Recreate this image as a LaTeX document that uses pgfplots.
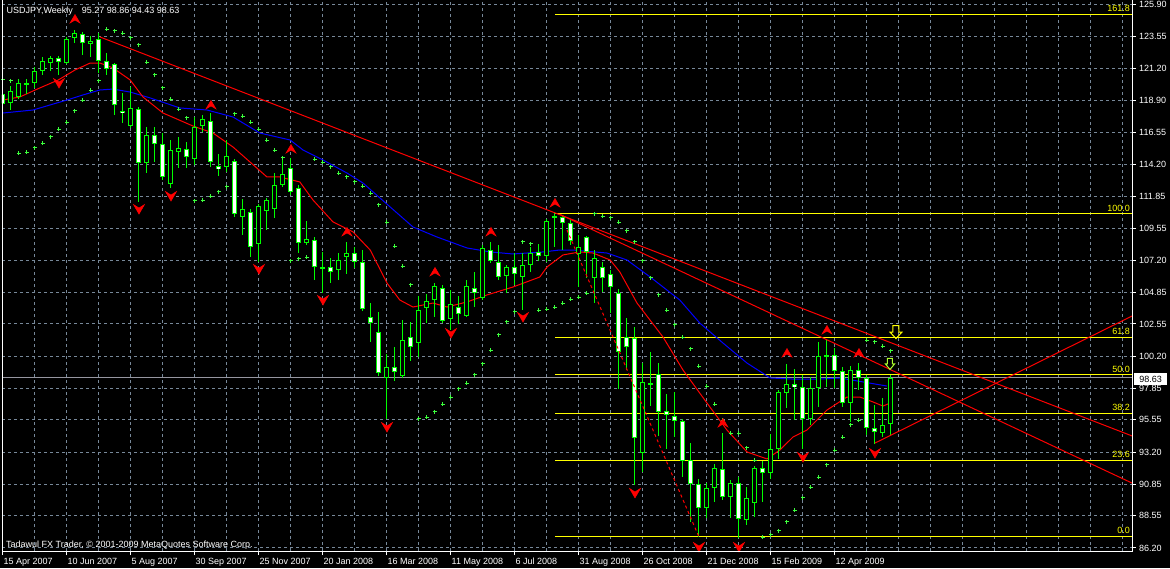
\documentclass[border=0pt]{standalone}
\usepackage{fontspec}
\setmainfont{Liberation Sans}
\usepackage{pgfplots}
\usepackage{pgfplotstable}
\pgfplotsset{compat=1.18}
\definecolor{gridc}{RGB}{119,136,153}
\definecolor{candle}{RGB}{0,255,0}
\definecolor{sarc}{RGB}{60,255,60}
\definecolor{fibc}{RGB}{255,255,0}
\definecolor{pricec}{RGB}{150,150,160}
\definecolor{arrA}{RGB}{255,255,0}
\definecolor{arrB}{RGB}{173,255,47}
\definecolor{maB}{RGB}{0,0,255}
\newcommand\mtfont{\fontsize{9pt}{10pt}\selectfont}

\pgfdeclareplotmark{fup}{%
  \pgfpathmoveto{\pgfqpoint{0pt}{4.5pt}}%
  \pgfpathlineto{\pgfqpoint{5pt}{-4pt}}%
  \pgfpathlineto{\pgfqpoint{0pt}{-1pt}}%
  \pgfpathlineto{\pgfqpoint{-5pt}{-4pt}}%
  \pgfpathclose\pgfusepathqfillstroke}
\pgfdeclareplotmark{fdn}{%
  \pgfpathmoveto{\pgfqpoint{0pt}{-5pt}}%
  \pgfpathlineto{\pgfqpoint{5.5pt}{4.5pt}}%
  \pgfpathlineto{\pgfqpoint{0pt}{1pt}}%
  \pgfpathlineto{\pgfqpoint{-5.5pt}{4.5pt}}%
  \pgfpathclose\pgfusepathqfillstroke}
\pgfdeclareplotmark{harrowA}{%
  \pgfpathmoveto{\pgfqpoint{-3pt}{6.5pt}}%
  \pgfpathlineto{\pgfqpoint{3pt}{6.5pt}}%
  \pgfpathlineto{\pgfqpoint{3pt}{0pt}}%
  \pgfpathlineto{\pgfqpoint{6pt}{0pt}}%
  \pgfpathlineto{\pgfqpoint{0pt}{-6.5pt}}%
  \pgfpathlineto{\pgfqpoint{-6pt}{0pt}}%
  \pgfpathlineto{\pgfqpoint{-3pt}{0pt}}%
  \pgfpathclose\pgfusepathqstroke}
\pgfdeclareplotmark{harrowB}{%
  \pgfpathmoveto{\pgfqpoint{-2.5pt}{5.5pt}}%
  \pgfpathlineto{\pgfqpoint{2.5pt}{5.5pt}}%
  \pgfpathlineto{\pgfqpoint{2.5pt}{0pt}}%
  \pgfpathlineto{\pgfqpoint{4.5pt}{0pt}}%
  \pgfpathlineto{\pgfqpoint{0pt}{-5.5pt}}%
  \pgfpathlineto{\pgfqpoint{-4.5pt}{0pt}}%
  \pgfpathlineto{\pgfqpoint{-2.5pt}{0pt}}%
  \pgfpathclose\pgfusepathqstroke}

\pgfplotstableread{
i O H L C
0 119.34 119.78 117.59 118.61
1 118.68 119.92 118.17 119.56
2 119.12 120.43 118.97 120.14
3 120.05 120.43 119.34 120.09
4 120.14 121.31 119.78 121.02
5 121.02 122.04 120.73 121.75
6 121.60 122.11 121.02 121.97
7 121.97 122.11 120.73 121.67
8 121.60 123.50 121.55 123.35
9 123.43 124.01 123.06 123.79
10 123.72 123.86 122.18 123.06
11 122.99 123.57 122.04 123.21
12 123.35 123.79 120.87 121.75
13 121.75 122.33 120.73 121.16
14 121.53 121.60 117.81 118.54
15 118.10 119.41 117.22 117.95
16 117.00 119.85 116.86 118.32
17 118.24 118.39 111.45 114.30
18 114.30 116.93 113.57 116.35
19 116.35 116.93 114.37 115.69
20 115.69 116.49 113.06 113.28
21 112.77 115.98 112.48 115.25
22 115.10 116.20 113.94 115.40
23 115.32 115.83 113.94 114.74
24 114.59 117.66 114.16 116.93
25 117.00 117.81 116.56 117.51
26 117.37 117.95 114.01 114.37
27 114.08 114.96 113.35 113.86
28 114.01 115.98 113.64 114.81
29 114.45 114.59 110.36 110.58
30 110.36 111.67 109.05 110.94
31 110.72 110.94 107.44 108.17
32 108.39 111.31 107.08 111.16
33 110.80 111.75 109.41 111.60
34 110.94 113.57 110.29 112.70
35 112.70 114.52 112.55 113.50
36 113.94 114.67 111.97 112.18
37 112.48 112.70 107.73 108.46
38 108.46 110.07 108.32 108.75
39 108.68 108.90 105.76 106.71
40 106.64 107.81 104.81 106.60
41 106.71 107.37 105.54 106.35
42 106.49 107.73 105.76 107.22
43 107.44 108.54 106.20 107.73
44 107.73 108.17 106.64 107.08
45 107.08 107.95 103.50 103.64
46 103.06 104.08 101.24 102.62
47 101.97 103.43 98.75 98.97
48 98.61 100.36 95.62 99.41
49 99.41 100.87 98.39 99.05
50 98.75 102.84 98.61 101.38
51 101.60 102.70 99.85 100.87
52 101.16 104.59 100.14 103.57
53 103.72 104.74 102.62 104.23
54 104.30 105.54 103.06 105.32
55 105.18 105.40 102.62 102.77
56 102.91 105.03 102.11 104.01
57 103.79 104.59 102.55 103.28
58 103.13 105.76 103.06 105.32
59 105.18 106.35 103.79 104.81
60 104.45 108.32 104.30 108.10
61 107.95 108.54 107.00 107.15
62 107.08 108.32 105.76 105.98
63 106.05 106.86 104.81 106.71
64 106.71 107.73 105.40 106.20
65 105.98 107.73 103.57 106.86
66 106.86 108.17 106.34 107.73
67 107.80 108.39 107.15 107.51
68 107.51 110.21 107.08 110.07
69 110.29 110.65 108.17 110.43
70 110.36 110.50 107.95 109.92
71 109.92 110.14 108.32 108.61
72 107.66 109.05 105.25 108.17
73 108.90 108.97 105.91 107.80
74 105.91 107.95 104.08 107.37
75 106.71 107.08 104.89 105.91
76 106.20 106.49 103.35 105.25
77 104.81 105.10 97.81 100.51
78 101.60 102.99 99.19 100.87
79 101.53 102.33 90.80 94.23
80 93.13 99.70 91.75 98.32
81 98.20 100.51 96.56 98.15
82 98.90 99.70 94.38 96.13
83 96.20 97.44 93.43 95.91
84 95.83 97.59 94.30 95.47
85 95.47 95.62 91.38 92.55
86 92.62 93.86 88.10 90.87
87 90.87 91.24 87.00 89.12
88 89.12 90.94 88.39 90.58
89 90.58 92.33 89.56 92.04
90 91.97 94.59 89.70 89.92
91 89.92 91.16 88.39 90.94
92 90.94 91.38 86.93 88.32
93 88.24 90.65 87.88 89.85
94 89.48 92.18 88.46 92.04
95 92.04 92.55 89.56 91.67
96 91.67 94.52 91.24 93.43
97 93.43 97.73 92.70 97.59
98 97.51 99.63 96.42 98.17
99 98.17 99.27 95.54 97.95
100 97.95 98.83 93.43 95.62
101 95.62 98.68 95.18 97.88
102 97.88 101.24 96.49 100.21
103 100.21 101.38 97.95 100.29
104 100.29 100.80 97.88 99.12
105 99.12 99.41 96.49 96.78
106 96.78 99.48 95.40 99.19
107 99.19 99.70 97.73 98.61
108 98.61 98.83 94.45 94.96
109 94.96 96.64 93.79 94.67
110 94.60 97.15 94.30 95.18
111 95.27 98.86 94.43 98.63
}\candles

\pgfplotstableread{
i p
0 120.43
1 120.29
2 115.03
3 115.10
4 115.40
5 115.76
6 116.20
7 116.78
8 117.29
9 118.10
10 118.90
11 119.63
12 120.29
13 124.08
14 123.94
15 123.79
16 123.43
17 122.92
18 121.67
19 120.73
20 119.78
21 118.97
22 118.24
23 117.59
24 111.53
25 111.60
26 111.89
27 112.19
28 112.55
29 117.88
30 117.73
31 117.29
32 116.78
33 115.98
34 115.25
35 114.67
36 107.15
37 107.30
38 107.44
39 114.59
40 114.37
41 114.01
42 113.57
43 113.28
44 112.92
45 112.62
46 112.11
47 111.24
48 109.99
49 108.24
50 106.78
51 105.40
52 95.62
53 95.76
54 96.13
55 96.71
56 97.22
57 97.81
58 98.24
59 98.83
60 99.63
61 100.65
62 101.75
63 102.70
64 103.43
65 108.54
66 108.39
67 103.57
68 103.64
69 103.79
70 104.08
71 104.37
72 104.52
73 104.81
74 110.58
75 110.43
76 110.29
77 109.99
78 109.34
79 108.54
80 107.15
81 105.91
82 104.67
83 103.57
84 102.48
85 101.60
86 100.73
87 99.48
88 98.02
89 96.71
90 95.54
91 94.59
92 94.59
93 93.50
94 92.62
95 87.00
96 87.15
97 87.44
98 88.10
99 88.97
100 89.85
101 90.65
102 91.38
103 92.26
104 93.35
105 94.30
106 95.18
107 95.54
108 101.38
109 101.24
110 100.94
111 100.58
}\sar

\pgfplotstableread{
i p
0 118.90
2.1 119.12
4.6 119.78
6.9 120.36
9 121.09
10.9 121.60
12.1 121.60
13.75 121.24
15.9 120.36
17.5 119.12
20 117.95
23.75 117.00
26.25 116.49
28.75 115.47
33 113.28
34.6 113.28
37.1 112.92
38.75 111.60
41.25 110.00
43.75 109.27
45.9 107.95
48 105.54
49.6 104.30
51.25 103.79
53.75 104.08
55.5 103.79
58 104.16
60.5 104.67
63.75 105.25
67.1 105.98
68 106.71
70 107.59
72.1 107.81
73.75 107.73
75.9 107.22
77.1 106.35
79.25 104.08
82.5 101.60
85 99.19
88 96.78
90.5 94.81
93 93.21
95.5 92.70
97.1 93.35
98.75 94.30
100.5 94.81
103 96.27
105.5 97.22
107.1 97.22
108.75 96.86
110 96.56
110.9 96.78
}\maRed

\pgfplotstableread{
i p
0 117.95
3.75 118.17
8 118.90
10 119.27
12.1 119.63
13.75 119.70
15.9 119.48
18.4 119.05
22.1 118.32
25.5 118.17
28.75 117.66
32.1 116.49
35.9 115.98
37.5 115.25
40 114.52
43 113.57
45 112.84
48.4 111.09
51.25 109.63
54.25 108.90
58 108.10
60.9 107.81
63.75 107.66
67.5 107.81
69.6 107.95
71.25 107.95
75.5 107.73
78 107.22
80.9 105.98
84.6 104.30
87.1 102.62
90 101.16
93 99.70
95.9 98.61
98.75 98.53
102.1 98.53
104.6 98.61
107.5 98.32
110.5 98.02
}\maBlue

\begin{document}
\begin{tikzpicture}
\fill[black] (0,0) rectangle (1170pt,568pt);
\useasboundingbox (0,0) rectangle (1170pt,568pt);
\begin{axis}[
  at={(2pt,17pt)}, anchor=south west, scale only axis,
  width=1130pt, height=550pt,
  xmin=-0.125, xmax=141.125, ymin=85.98, ymax=126.127,
  axis line style={draw=none},
  xtick={0,8,...,104},
  xticklabels={15 Apr 2007,10 Jun 2007,5 Aug 2007,30 Sep 2007,25 Nov 2007,20 Jan 2008,16 Mar 2008,11 May 2008,6 Jul 2008,31 Aug 2008,26 Oct 2008,21 Dec 2008,15 Feb 2009,12 Apr 2009},
  minor xtick={4,12,20,28,36,44,52,60,68,76,84,92,100,108,112,116,120,124,128,132,136,140},
  ytick={86.20,88.55,90.85,93.20,95.55,97.85,100.20,102.55,104.85,107.20,109.55,111.85,114.20,116.55,118.90,121.20,123.55,125.90},
  yticklabels={86.20,88.55,90.85,93.20,95.55,97.85,100.20,102.55,104.85,107.20,109.55,111.85,114.20,116.55,118.90,121.20,123.55,125.90},
  xtick pos=bottom, ytick pos=right, yticklabel pos=right,
  tick align=outside, major tick length=4pt, minor tick length=0pt,
  tick style={white, line width=1pt},
  xmajorgrids, xminorgrids, ymajorgrids,
  major grid style={gridc, dash pattern=on 3pt off 3pt, line width=1pt},
  minor grid style={gridc, dash pattern=on 3pt off 3pt, line width=1pt},
  tick label style={font=\mtfont, text=white},
  xticklabel style={anchor=base west, inner sep=0pt, xshift=0.5pt, yshift=-9pt},
  yticklabel style={anchor=west, inner sep=0pt, xshift=3pt},
]
% Fibonacci levels
\addplot[fibc, line width=1pt] coordinates {(69,87.05) (141.125,87.05)};
\addplot[fibc, line width=1pt] coordinates {(69,92.61) (141.125,92.61)};
\addplot[fibc, line width=1pt] coordinates {(69,96.05) (141.125,96.05)};
\addplot[fibc, line width=1pt] coordinates {(69,98.83) (141.125,98.83)};
\addplot[fibc, line width=1pt] coordinates {(69,101.60) (141.125,101.60)};
\addplot[fibc, line width=1pt] coordinates {(69,110.60) (141.125,110.60)};
\addplot[fibc, line width=1pt] coordinates {(69,125.15) (141.125,125.15)};
% current price line
\addplot[pricec, line width=1pt] coordinates {(-0.125,98.63) (141.125,98.63)};
% moving averages
\addplot[maB, line width=1pt] table[x=i,y=p]{\maBlue};
\addplot[red, line width=1pt] table[x=i,y=p]{\maRed};
% candles: wicks
\addplot[draw=none, mark=none, forget plot, error bars/.cd, y dir=both, y explicit, error mark=none,
  error bar style={draw=candle, line width=1pt, solid}]
  table[x=i, y expr={(\thisrow{H}+\thisrow{L})/2}, y error expr={(\thisrow{H}-\thisrow{L})/2}]{\candles};
% candle bodies (outline)
\addplot[draw=none, mark=none, forget plot, error bars/.cd, y dir=both, y explicit, error mark=none,
  error bar style={draw=candle, line width=5pt, solid}]
  table[x=i, y expr={(\thisrow{O}+\thisrow{C})/2}, y error expr={max(abs(\thisrow{O}-\thisrow{C})/2,0.055)}]{\candles};
% bearish bodies filled white
\addplot[draw=none, mark=none, forget plot, error bars/.cd, y dir=both, y explicit, error mark=none,
  error bar style={draw=white, line width=3pt, solid}]
  table[x=i, y expr={(\thisrow{O}+\thisrow{C})/2}, y error expr={ifthenelse(\thisrow{O}>\thisrow{C}, max(abs(\thisrow{O}-\thisrow{C})/2-0.073,0), 0)}]{\candles};
% bullish bodies filled black
\addplot[draw=none, mark=none, forget plot, error bars/.cd, y dir=both, y explicit, error mark=none,
  error bar style={draw=black, line width=3pt, solid}]
  table[x=i, y expr={(\thisrow{O}+\thisrow{C})/2}, y error expr={ifthenelse(\thisrow{C}>\thisrow{O}, max(abs(\thisrow{O}-\thisrow{C})/2-0.073,0), 0)}]{\candles};
% trend lines
\addplot[red, line width=1pt] coordinates {(12.125,123.5) (141.125,94.38)};
\addplot[red, line width=1pt] coordinates {(69.5,110.58) (141.125,90.94)};
\addplot[red, line width=1pt] coordinates {(109,93.86) (141.125,103.13)};
\addplot[red, line width=1pt, dash pattern=on 3pt off 3pt] coordinates {(70.5,109.41) (87,87.0)};
% parabolic SAR
\addplot[only marks, mark=+, mark size=2pt, sarc, line width=1pt] table[x=i,y=p]{\sar};
% fractals
\addplot[only marks, mark=fup, mark options={draw=red, fill=red, line width=0.5pt}] coordinates {
(9,124.81) (26,118.54) (36,115.32) (43,109.27) (54,106.35) (61,109.27) (69,111.38) (90,95.32) (98,100.43) (103,102.11) (107,100.43)};
\addplot[only marks, mark=fdn, mark options={draw=red, fill=red, line width=0.5pt}] coordinates {
(7,120.14) (17,110.94) (21,111.89) (32,106.56) (40,104.30) (48,95.03) (56,101.89) (65,103.06) (79,90.22) (87,86.27) (92,86.27) (100,92.84) (109,93.13)};
% arrows
\addplot[only marks, mark=harrowA, mark options={draw=arrA, line width=1pt}] coordinates {(111.625,101.96)};
\addplot[only marks, mark=harrowB, mark options={draw=arrB, line width=1pt}] coordinates {(110.875,99.63)};
% fib labels
\node[anchor=base east, inner sep=0pt, text=fibc, font=\mtfont, yshift=2.5pt] at (axis cs:140.875,125.15) {161.8};
\node[anchor=base east, inner sep=0pt, text=fibc, font=\mtfont, yshift=2.5pt] at (axis cs:140.875,110.60) {100.0};
\node[anchor=base east, inner sep=0pt, text=fibc, font=\mtfont, yshift=2.5pt] at (axis cs:140.875,101.60) {61.8};
\node[anchor=base east, inner sep=0pt, text=fibc, font=\mtfont, yshift=2.5pt] at (axis cs:140.875,98.83) {50.0};
\node[anchor=base east, inner sep=0pt, text=fibc, font=\mtfont, yshift=2.5pt] at (axis cs:140.875,96.05) {38.2};
\node[anchor=base east, inner sep=0pt, text=fibc, font=\mtfont, yshift=2.5pt] at (axis cs:140.875,92.61) {23.6};
\node[anchor=base east, inner sep=0pt, text=fibc, font=\mtfont, yshift=2.5pt] at (axis cs:140.875,87.05) {0.0};
\end{axis}
% frame
\draw[white, line width=1pt] (2.5pt,568pt) -- (2.5pt,16.5pt) -- (1132.5pt,16.5pt) -- (1132.5pt,568pt);
% current price label
\fill[white] (1134pt,183pt) rectangle (1167pt,195pt);
\node[anchor=center, inner sep=0pt, text=black, font=\mtfont] at (1150.5pt,189pt) {98.63};
% header and footer
\node[anchor=base west, inner sep=0pt, text=white, font=\mtfont] at (6.5pt,554pt) {USDJPY,Weekly\hspace{9pt}95.27 98.86 94.43 98.63};
\node[anchor=base west, inner sep=0pt, text=white, font=\mtfont] at (6pt,21pt) {Tadawul FX Trader, © 2001-2009 MetaQuotes Software Corp.};
\end{tikzpicture}
\end{document}
